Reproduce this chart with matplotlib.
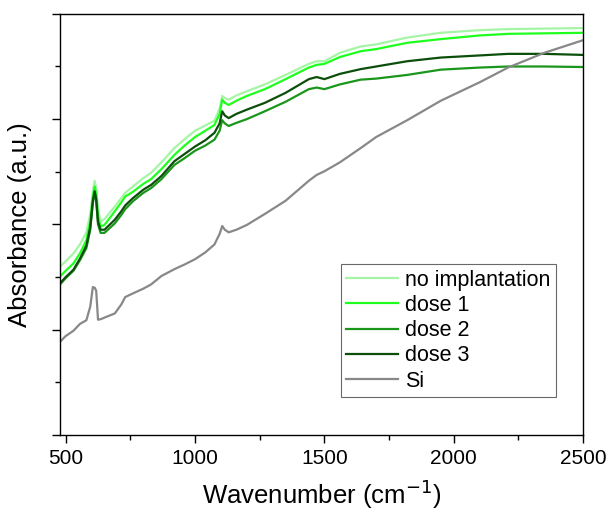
import matplotlib
matplotlib.use("Agg")
import matplotlib.pyplot as plt
from matplotlib.ticker import MultipleLocator, NullFormatter

plt.rcParams['font.family'] = ['Liberation Sans', 'DejaVu Sans']

wavenumber = [478, 500, 530, 555, 580, 595, 605, 612, 618, 625, 635, 650, 690, 715, 730,
              760, 800, 830, 870, 920, 960, 1000, 1040, 1075, 1095, 1105, 1115, 1130,
              1160, 1200, 1270, 1350, 1440, 1470, 1500, 1560, 1640, 1700, 1820, 1950,
              2100, 2210, 2350, 2500]

no_implantation = [3.20, 3.30, 3.45, 3.62, 3.85, 4.20, 4.62, 4.83, 4.70, 4.30, 4.06, 4.10,
                   4.34, 4.50, 4.60, 4.72, 4.88, 4.98, 5.18, 5.45, 5.62, 5.78, 5.88, 5.97,
                   6.20, 6.44, 6.40, 6.37, 6.45, 6.53, 6.66, 6.84, 7.05, 7.10, 7.10, 7.26,
                   7.38, 7.42, 7.55, 7.64, 7.69, 7.71, 7.72, 7.73]
dose_1 = [3.01, 3.12, 3.26, 3.45, 3.70, 4.05, 4.52, 4.72, 4.58, 4.15, 3.96, 3.99,
          4.25, 4.42, 4.53, 4.62, 4.77, 4.86, 5.05, 5.32, 5.50, 5.66, 5.78, 5.89,
          6.10, 6.37, 6.31, 6.27, 6.35, 6.44, 6.57, 6.76, 6.98, 7.03, 7.05, 7.18,
          7.29, 7.33, 7.45, 7.52, 7.59, 7.62, 7.63, 7.64]
dose_2 = [2.86, 2.98, 3.12, 3.32, 3.55, 3.90, 4.40, 4.60, 4.45, 4.00, 3.84, 3.84,
          4.02, 4.18, 4.29, 4.44, 4.60, 4.69, 4.86, 5.13, 5.26, 5.40, 5.50, 5.61,
          5.78, 5.98, 5.92, 5.87, 5.93, 6.00, 6.15, 6.33, 6.57, 6.60, 6.57, 6.66,
          6.75, 6.77, 6.84, 6.94, 6.98, 7.00, 7.00, 6.99]
dose_3 = [2.88, 3.00, 3.14, 3.35, 3.60, 3.95, 4.45, 4.63, 4.48, 4.05, 3.90, 3.90,
          4.09, 4.25, 4.36, 4.50, 4.66, 4.75, 4.92, 5.20, 5.34, 5.48, 5.60, 5.74,
          5.92, 6.15, 6.07, 6.02, 6.10, 6.18, 6.31, 6.50, 6.76, 6.80, 6.76, 6.86,
          6.95, 7.00, 7.10, 7.17, 7.21, 7.24, 7.24, 7.22]
si = [1.77, 1.88, 1.98, 2.11, 2.18, 2.44, 2.81, 2.80, 2.74, 2.19, 2.20, 2.23,
      2.31, 2.48, 2.62, 2.69, 2.78, 2.86, 3.02, 3.15, 3.24, 3.34, 3.47, 3.62,
      3.82, 3.97, 3.90, 3.85, 3.90, 3.99, 4.20, 4.45, 4.83, 4.94, 5.01, 5.18,
      5.45, 5.66, 5.98, 6.35, 6.70, 6.98, 7.26, 7.50]

series = [
    ("no implantation", no_implantation, "#a6f5a6"),
    ("dose 1", dose_1, "#1eff1e"),
    ("dose 2", dose_2, "#1a961a"),
    ("dose 3", dose_3, "#0b4f0b"),
    ("Si", si, "#888888"),
]

fig = plt.figure(figsize=(6.09, 5.13), dpi=100)
ax = fig.add_axes([0.0985, 0.152, 0.859, 0.821])

for label, vals, color in series:
    ax.plot(wavenumber, vals, color=color, lw=1.6, label=label)

ax.set_xlim(478, 2500)
ax.set_ylim(0, 8)
ax.xaxis.set_major_locator(MultipleLocator(500))
ax.xaxis.set_minor_locator(MultipleLocator(250))
ax.yaxis.set_major_locator(MultipleLocator(2))
ax.yaxis.set_minor_locator(MultipleLocator(1))
ax.yaxis.set_major_formatter(NullFormatter())
ax.tick_params(which='major', direction='out', length=6, width=1.0, labelsize=15, pad=4)
ax.tick_params(which='minor', direction='out', length=3.5, width=1.0)
for sp in ax.spines.values():
    sp.set_linewidth(1.0)

ax.set_xlabel("Wavenumber (cm$^{-1}$)", fontsize=18.5, labelpad=7)
ax.set_ylabel("Absorbance (a.u.)", fontsize=18.5, labelpad=10)

leg = ax.legend(loc='lower right', bbox_to_anchor=(0.948, 0.09), fontsize=15.5,
                frameon=True, fancybox=False, edgecolor='#444444',
                handlelength=2.4, handletextpad=0.35, labelspacing=0.2,
                borderpad=0.25, borderaxespad=0)
leg.get_frame().set_linewidth(0.8)

fig.savefig("out.png", dpi=100)
